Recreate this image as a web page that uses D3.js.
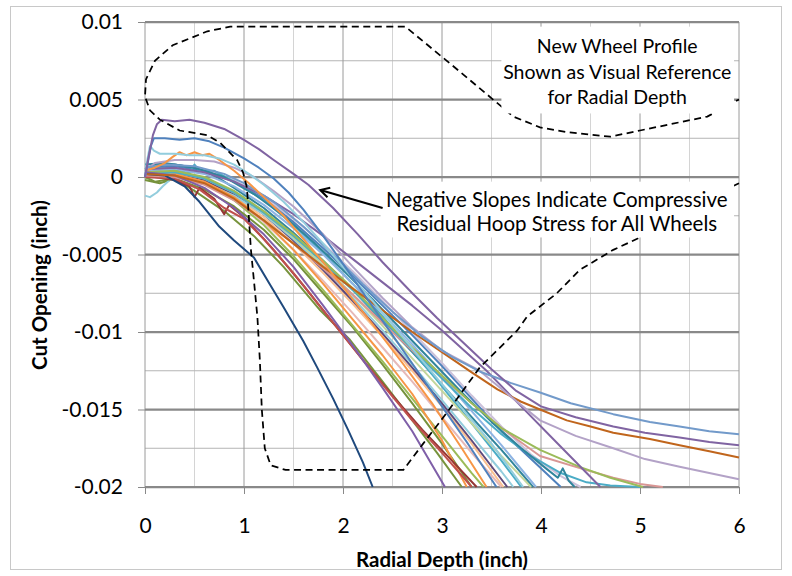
<!DOCTYPE html>
<html lang="en">
<head>
<meta charset="UTF-8">
<script src="https://d3js.org/d3.v7.min.js"></script>
<title>Cut Opening vs Radial Depth</title>
<style>
  body { margin: 0; background: #fff; }
  text { font-family: Lato, "Open Sans", sans-serif; fill: #000; }
  .axis .domain { display: none; }
  .axis line { stroke: #898989; }
</style>
</head>
<body>
<svg id="chart" width="792" height="576"></svg>
<script>
// axis ticks
const xTicks = [0, 1, 2, 3, 4, 5, 6];
const xMinor = [0.5, 1.5, 2.5, 3.5, 4.5, 5.5];
const yTicks = [0.01, 0.005, 0, -0.005, -0.01, -0.015, -0.02];
const yTickLabels = ["0.01", "0.005", "0", "-0.005", "-0.01", "-0.015", "-0.02"];
const yMinor = [0.0075, 0.0025, -0.0025, -0.0075, -0.0125, -0.0175];

// measured cut opening curves, [radial depth, cut opening] in inch
const s01 = [[0,0],[0.04,0.0014],[0.08,0.0027],[0.12,0.0034],[0.17,0.0037],[0.3,0.0036],[0.45,0.0037],[0.6,0.0035],[0.8,0.0031],[1.0,0.0024],[1.15,0.0018],[1.3,0.0011],[1.5,0.0002],[1.65,-0.0005],[1.9,-0.002],[2.15,-0.0037],[2.4,-0.0055],[2.7,-0.0075],[2.95,-0.0091],[3.2,-0.0106],[3.5,-0.0124],[3.75,-0.0138],[4.0,-0.0148],[4.35,-0.0155],[4.73,-0.0161],[5.05,-0.0165],[5.4,-0.0168],[5.7,-0.0171],[6.0,-0.0173]];
const s02 = [[0,0],[0.03,0.001],[0.06,0.002],[0.09,0.0025],[0.2,0.0025],[0.35,0.0024],[0.5,0.0025],[0.65,0.0023],[0.8,0.0019],[1.0,0.0012],[1.15,0.0006],[1.3,-0.0001],[1.45,-0.001],[1.6,-0.0021],[1.8,-0.0038],[2.0,-0.0056],[2.25,-0.0079],[2.5,-0.0102],[2.75,-0.0125],[3.0,-0.0148],[3.25,-0.0171],[3.55,-0.02]];
const s03 = [[0,0],[0.02,0.001],[0.05,0.002],[0.09,0.0017],[0.15,0.0015],[0.3,0.0015],[0.45,0.0014],[0.6,0.0014],[0.75,0.0012],[0.9,0.0008],[1.05,0.0002],[1.2,-0.0005],[1.4,-0.0016],[1.6,-0.0029],[1.8,-0.0043],[2.0,-0.0058],[2.3,-0.008],[2.6,-0.0103],[2.9,-0.0126],[3.2,-0.0149],[3.5,-0.0172],[3.82,-0.02]];
const s04 = [[0,0.0004],[0.1,0.0006],[0.2,0.0009],[0.28,0.0013],[0.35,0.0016],[0.42,0.0014],[0.5,0.0016],[0.58,0.0014],[0.65,0.0015],[0.75,0.0011],[0.9,0.0004],[1.05,-0.0004],[1.2,-0.0013],[1.4,-0.0025],[1.6,-0.004],[1.8,-0.0055],[2.0,-0.0071],[2.3,-0.0095],[2.6,-0.012],[2.9,-0.0146],[3.2,-0.0175],[3.45,-0.02]];
const s05 = [[0,0.0004],[0.1,0.0009],[0.3,0.0011],[0.5,0.0011],[0.7,0.001],[0.9,0.0006],[1.1,0],[1.3,-0.0009],[1.5,-0.0019],[1.8,-0.0037],[2.1,-0.0058],[2.4,-0.0078],[2.7,-0.0097],[3.0,-0.0112],[3.38,-0.0125],[3.7,-0.0142],[3.99,-0.0157],[4.35,-0.0167],[4.73,-0.0175],[5.05,-0.0182],[5.4,-0.0187],[5.7,-0.0191],[6.0,-0.0195]];
const s06 = [[0,0.0002],[0.3,0.0001],[0.6,-0.0004],[0.9,-0.0014],[1.2,-0.0028],[1.5,-0.0043],[1.8,-0.0058],[2.1,-0.0072],[2.4,-0.0086],[2.7,-0.01],[3.0,-0.0113],[3.3,-0.0126],[3.56,-0.0137],[3.8,-0.0145],[3.99,-0.015],[4.26,-0.0157],[4.5,-0.0161],[4.73,-0.0165],[5.1,-0.0169],[5.4,-0.0173],[5.7,-0.0177],[6.0,-0.0181]];
const s07 = [[0,0.0006],[0.2,0.0008],[0.5,0.0007],[0.8,0.0002],[1.0,-0.0004],[1.3,-0.0016],[1.6,-0.0032],[1.9,-0.005],[2.2,-0.0069],[2.5,-0.0087],[2.8,-0.0103],[3.1,-0.0116],[3.4,-0.0126],[3.7,-0.0133],[3.99,-0.0139],[4.3,-0.0146],[4.73,-0.0153],[5.1,-0.0158],[5.4,-0.0161],[5.7,-0.0164],[6.0,-0.0166]];
const s08 = [[0,0.0002],[0.2,0.0001],[0.4,-0.0006],[0.55,-0.0016],[0.75,-0.0032],[0.9,-0.0041],[1.1,-0.0052],[1.25,-0.0068],[1.4,-0.0084],[1.6,-0.0106],[1.74,-0.0123],[1.9,-0.0143],[2.05,-0.0163],[2.2,-0.0184],[2.3,-0.02]];
const s09 = [[0,0.0003],[0.3,0.0001],[0.6,-0.0007],[0.9,-0.002],[1.2,-0.0037],[1.5,-0.0058],[1.8,-0.0083],[2.1,-0.0109],[2.4,-0.0136],[2.7,-0.0164],[3.03,-0.02]];
const s10 = [[0,0.0005],[0.3,0.0006],[0.6,0.0003],[0.9,-0.0003],[1.2,-0.0012],[1.5,-0.0024],[1.8,-0.0038],[2.1,-0.0053],[2.4,-0.0068],[2.7,-0.0083],[3.0,-0.0099],[3.45,-0.0125],[3.8,-0.0148],[4.2,-0.0174],[4.6,-0.02]];
const s11 = [[0,0.0003],[0.3,0.0004],[0.6,0],[0.9,-0.0009],[1.2,-0.0022],[1.5,-0.0037],[1.8,-0.0054],[2.1,-0.0072],[2.4,-0.0091],[2.7,-0.011],[3.0,-0.0128],[3.3,-0.0146],[3.6,-0.0162],[3.99,-0.0176],[4.39,-0.0187],[4.7,-0.0194],[5.03,-0.02]];
const s12 = [[0,0.0008],[0.2,0.0009],[0.5,0.0006],[0.8,0],[1.1,-0.0011],[1.4,-0.0025],[1.7,-0.0042],[2.0,-0.006],[2.3,-0.0079],[2.6,-0.0099],[2.9,-0.0119],[3.2,-0.0139],[3.5,-0.0158],[3.8,-0.0175],[4.05,-0.0188],[4.17,-0.0194],[4.22,-0.0188],[4.28,-0.0196],[4.34,-0.02]];
const s13 = [[0,0.0002],[0.3,0.0003],[0.6,-0.0001],[0.9,-0.001],[1.2,-0.0023],[1.5,-0.0038],[1.8,-0.0055],[2.1,-0.0073],[2.4,-0.0092],[2.7,-0.0111],[3.0,-0.013],[3.3,-0.0149],[3.6,-0.0166],[3.9,-0.018],[4.2,-0.0191],[4.46,-0.0197],[4.7,-0.0199],[5.0,-0.02]];
const s14 = [[0,0.0001],[0.3,0],[0.6,-0.0005],[0.9,-0.0015],[1.2,-0.0028],[1.5,-0.0043],[1.8,-0.0059],[2.1,-0.0076],[2.4,-0.0094],[2.7,-0.0112],[3.0,-0.0129],[3.3,-0.0146],[3.6,-0.0162],[3.99,-0.018],[4.4,-0.0188],[4.73,-0.0194],[5.0,-0.0198],[5.23,-0.02]];
const s15 = [[0,0],[0.3,-0.0001],[0.55,-0.0008],[0.8,-0.002],[1.0,-0.0027],[1.2,-0.004],[1.5,-0.0062],[1.8,-0.0086],[2.1,-0.011],[2.4,-0.0134],[2.7,-0.0157],[3.0,-0.0178],[3.3,-0.02]];
const s16 = [[0,0.0001],[0.3,-0.0002],[0.45,-0.0006],[0.5,-0.0013],[0.55,-0.0007],[0.7,-0.0014],[0.8,-0.0024],[0.85,-0.0018],[1.0,-0.0026],[1.3,-0.0047],[1.6,-0.007],[1.9,-0.0094],[2.2,-0.0118],[2.5,-0.0141],[2.8,-0.0163],[3.1,-0.0183],[3.35,-0.02]];
const s17 = [[0,0],[0.1,-0.0003],[0.3,-0.0001],[0.5,-0.0009],[0.8,-0.0022],[1.1,-0.0038],[1.4,-0.0058],[1.77,-0.0086],[2.07,-0.0105],[2.4,-0.0132],[2.7,-0.0157],[2.95,-0.0178],[3.2,-0.02]];
const s18 = [[0,0],[0.3,0.0002],[0.6,-0.0003],[0.9,-0.0013],[1.2,-0.0028],[1.5,-0.0047],[1.8,-0.0069],[2.1,-0.0092],[2.4,-0.0115],[2.7,-0.014],[3.0,-0.017],[3.25,-0.02]];
const s19 = [[0,0.0002],[0.3,0.0003],[0.6,-0.0001],[0.9,-0.001],[1.2,-0.0023],[1.5,-0.0039],[1.8,-0.0057],[2.1,-0.0076],[2.4,-0.0096],[2.7,-0.0117],[3.0,-0.0138],[3.3,-0.0159],[3.6,-0.018],[3.9,-0.02]];
const s20 = [[0,0.0004],[0.3,0.0005],[0.6,0.0002],[0.9,-0.0006],[1.2,-0.0018],[1.5,-0.0033],[1.8,-0.005],[2.1,-0.0069],[2.4,-0.0088],[2.7,-0.0108],[3.0,-0.0129],[3.3,-0.0151],[3.6,-0.0173],[3.95,-0.02]];
const s21 = [[0,-0.0012],[0.05,-0.0013],[0.12,-0.001],[0.18,-0.0006],[0.25,-0.0002],[0.4,0],[0.6,-0.0004],[0.9,-0.0012],[1.2,-0.0024],[1.5,-0.004],[1.8,-0.0058],[2.1,-0.0078],[2.4,-0.0099],[2.7,-0.0121],[3.0,-0.0144],[3.3,-0.0167],[3.6,-0.019],[3.72,-0.02]];
const s22 = [[0,0.0005],[0.2,0.0006],[0.45,0.0003],[0.5,0.0008],[0.55,0.0004],[0.7,0.0004],[0.9,-0.0003],[1.2,-0.0015],[1.5,-0.0031],[1.8,-0.0049],[2.1,-0.0069],[2.4,-0.009],[2.7,-0.0112],[3.0,-0.0135],[3.3,-0.0159],[3.6,-0.0183],[3.8,-0.02]];
const s23 = [[0,0.0005],[0.1,0.0008],[0.3,0.0008],[0.5,0.0006],[0.7,0.0001],[0.9,-0.0007],[1.2,-0.002],[1.5,-0.0036],[1.8,-0.0054],[2.1,-0.0073],[2.4,-0.0093],[2.7,-0.0113],[3.0,-0.0134],[3.3,-0.0155],[3.6,-0.0176],[3.92,-0.02]];
const s24 = [[0,0.0001],[0.3,0.0002],[0.6,-0.0004],[0.9,-0.0015],[1.2,-0.0031],[1.5,-0.0051],[1.8,-0.0073],[2.1,-0.0096],[2.4,-0.0119],[2.7,-0.0143],[3.0,-0.0167],[3.3,-0.0191],[3.42,-0.02]];
const s25 = [[0,0],[0.3,0.0001],[0.6,-0.0004],[0.9,-0.0014],[1.2,-0.0029],[1.5,-0.0047],[1.8,-0.0067],[2.1,-0.0088],[2.4,-0.011],[2.7,-0.0132],[3.0,-0.0155],[3.3,-0.0178],[3.6,-0.02]];
const s26 = [[0,0.0003],[0.3,0.0003],[0.6,-0.0002],[0.9,-0.0011],[1.2,-0.0024],[1.5,-0.0041],[1.8,-0.006],[2.1,-0.008],[2.4,-0.0101],[2.7,-0.0123],[3.0,-0.0146],[3.3,-0.017],[3.66,-0.02]];
const s27 = [[0,0.0006],[0.3,0.0007],[0.6,0.0004],[0.9,-0.0003],[1.2,-0.0014],[1.5,-0.0029],[1.8,-0.0046],[2.1,-0.0064],[2.4,-0.0083],[2.7,-0.0102],[3.0,-0.0122],[3.3,-0.0143],[3.6,-0.0164],[3.9,-0.0182],[4.2,-0.02]];
const s28 = [[0,-0.0002],[0.15,-0.0004],[0.3,-0.0001],[0.6,-0.0008],[0.9,-0.0019],[1.2,-0.0034],[1.5,-0.0053],[1.8,-0.0075],[2.1,-0.0097],[2.4,-0.0121],[2.7,-0.0146],[3.0,-0.0172],[3.3,-0.02]];
const s29 = [[0,0.0002],[0.3,0.0003],[0.6,-0.0002],[0.9,-0.0012],[1.2,-0.0026],[1.5,-0.0043],[1.8,-0.0062],[2.1,-0.0082],[2.4,-0.0103],[2.7,-0.0125],[3.0,-0.0148],[3.3,-0.0172],[3.62,-0.02]];
const s30 = [[0,0.0007],[0.3,0.0008],[0.6,0.0005],[0.9,-0.0002],[1.2,-0.0013],[1.5,-0.0027],[1.8,-0.0043],[2.1,-0.0061],[2.4,-0.008],[2.7,-0.01],[3.0,-0.012],[3.3,-0.0141],[3.6,-0.0161],[3.9,-0.0179],[4.2,-0.0193],[4.4,-0.02]];

// drawing order, bottom to top, with their colours
const wheels = [s30, s29, s28, s27, s26, s25, s24, s23, s22, s21, s20, s19, s18, s17, s16, s15,
                s14, s13, s12, s11, s10, s09, s08, s06, s05, s07, s04, s03, s02, s01];
const wheelColors = ["#ccc1da", "#fac090", "#76923c", "#4f81bd", "#5f497a", "#e6b9b8", "#9bbb59", "#31859c",
                     "#4bacc6", "#93cddd", "#8eb4e3", "#c3d69b", "#f79646", "#77933c", "#953735", "#c0504d",
                     "#d99694", "#4bacc6", "#31859c", "#9bbb59", "#8064a2", "#7f5fa8", "#1f497d", "#c0651c",
                     "#b3a2c7", "#729aca", "#f79646", "#93cddd", "#4f81bd", "#8064a2"];

// new wheel profile outline, drawn only as a visual reference
const profile = [[6.0,-0.0004],[5.5,-0.0019],[5.0,-0.0039],[4.73,-0.0047],[4.39,-0.006],[4.16,-0.0075],[3.86,-0.009],
  [3.76,-0.0099],[3.38,-0.0123],[3.05,-0.0152],[2.81,-0.0172],[2.61,-0.0189],[1.42,-0.0189],[1.27,-0.0186],
  [1.21,-0.0175],[1.18,-0.015],[1.16,-0.0118],[1.135,-0.009],[1.09,-0.006],[1.07,-0.0047],[1.03,-0.0007],
  [0.99,0.0003],[0.93,0.0011],[0.76,0.0022],[0.63,0.0027],[0.35,0.003],[0.15,0.0037],[0.05,0.0043],
  [0.0,0.0052],[0.01,0.0063],[0.1,0.0075],[0.28,0.0085],[0.63,0.0094],[0.86,0.0097],[2.63,0.0097],
  [3.18,0.0068],[3.72,0.0039],[3.99,0.0032],[4.26,0.0029],[4.7,0.0026],[5.0,0.003],[5.68,0.0039],[6.0,0.005]];

const profileNote = ["New Wheel Profile", "Shown as Visual Reference", "for Radial Depth"];
const slopeNote = ["Negative Slopes Indicate Compressive", "Residual Hoop Stress for All Wheels"];

const svg = d3.select("#chart");
const x = d3.scaleLinear().domain([0, 6]).range([145, 739]);
const y = d3.scaleLinear().domain([-0.02, 0.01]).range([487, 22]);

// chart area border
svg.append("rect")
  .attr("x", 10.5).attr("y", 6.5).attr("width", 771).attr("height", 563)
  .attr("fill", "#fff").attr("stroke", "#c8c8c8");

// gridlines
const grid = svg.append("g");
grid.selectAll(".vmin").data(xMinor).join("line")
  .attr("x1", d => x(d)).attr("x2", d => x(d)).attr("y1", y(0.01)).attr("y2", y(-0.02))
  .attr("stroke", "#d4d4d4").attr("stroke-width", 1);
grid.selectAll(".hmin").data(yMinor).join("line")
  .attr("x1", x(0)).attr("x2", x(6)).attr("y1", d => y(d)).attr("y2", d => y(d))
  .attr("stroke", "#b4b4b4").attr("stroke-width", 1);
grid.selectAll(".vmaj").data(xTicks).join("line")
  .attr("x1", d => x(d)).attr("x2", d => x(d)).attr("y1", y(0.01)).attr("y2", y(-0.02))
  .attr("stroke", "#9a9a9a").attr("stroke-width", 1);
grid.selectAll(".hmaj").data(yTicks).join("line")
  .attr("x1", x(0)).attr("x2", x(6)).attr("y1", d => y(d)).attr("y2", d => y(d))
  .attr("stroke", "#898989").attr("stroke-width", 2.25);

// axes
const leftAxis = d3.axisLeft(y).tickValues(yTicks).tickSize(7).tickPadding(15)
  .tickFormat((d, i) => yTickLabels[i]);
svg.append("g").attr("class", "axis")
  .attr("transform", "translate(" + x(0) + ",0)")
  .call(leftAxis)
  .selectAll("text").style("font-size", "21px");

const bottomAxis = d3.axisBottom(x).tickValues(xTicks).tickSize(7).tickPadding(24)
  .tickFormat(d3.format("d"));
svg.append("g").attr("class", "axis")
  .attr("transform", "translate(0," + y(-0.02) + ")")
  .call(bottomAxis)
  .selectAll("text").style("font-size", "21px");

// curves
const line = d3.line().x(d => x(d[0])).y(d => y(d[1]));
svg.append("g").selectAll("path").data(wheels).join("path")
  .attr("d", line)
  .attr("fill", "none")
  .attr("stroke", (d, i) => wheelColors[i])
  .attr("stroke-width", 2)
  .attr("stroke-linejoin", "round");

// wheel profile
svg.append("path")
  .attr("d", line(profile))
  .attr("fill", "none")
  .attr("stroke", "#000")
  .attr("stroke-width", 1.75)
  .attr("stroke-dasharray", "7,4.5");

// note: wheel profile
svg.append("rect")
  .attr("x", x(3.6)).attr("y", y(0.0097)).attr("width", x(5.95) - x(3.6)).attr("height", y(0.0041) - y(0.0097))
  .attr("fill", "#fff");
svg.append("g").selectAll("text").data(profileNote).join("text")
  .attr("x", x(4.77)).attr("y", (d, i) => 53 + i * 25.5)
  .attr("text-anchor", "middle")
  .style("font-size", "19.5px")
  .text(d => d);

// note: slopes
svg.append("rect")
  .attr("x", x(2.38)).attr("y", y(-0.0003)).attr("width", x(5.95) - x(2.38)).attr("height", y(-0.0039) - y(-0.0003))
  .attr("fill", "#fff");
svg.append("g").selectAll("text").data(slopeNote).join("text")
  .attr("x", x(4.16)).attr("y", (d, i) => 207 + i * 24)
  .attr("text-anchor", "middle")
  .style("font-size", "20.5px")
  .text(d => d);

// arrow
svg.append("defs").append("marker")
  .attr("id", "head").attr("viewBox", "0 0 12 12").attr("refX", 10).attr("refY", 6)
  .attr("markerWidth", 12).attr("markerHeight", 12).attr("markerUnits", "userSpaceOnUse")
  .attr("orient", "auto")
  .append("path").attr("d", "M1,1 L10,6 L1,11").attr("fill", "none").attr("stroke", "#000").attr("stroke-width", 2);
svg.append("line")
  .attr("x1", x(2.4)).attr("y1", y(-0.002)).attr("x2", x(1.77)).attr("y2", y(-0.00084))
  .attr("stroke", "#000").attr("stroke-width", 2.25)
  .attr("marker-end", "url(#head)");

// axis titles
svg.append("text")
  .attr("x", x(3)).attr("y", 567)
  .attr("text-anchor", "middle")
  .style("font-size", "20.5px").style("font-weight", "bold")
  .text("Radial Depth (inch)");
svg.append("text")
  .attr("transform", "translate(47,285) rotate(-90)")
  .attr("text-anchor", "middle")
  .style("font-size", "20.5px").style("font-weight", "bold")
  .text("Cut Opening (inch)");
</script>
</body>
</html>
